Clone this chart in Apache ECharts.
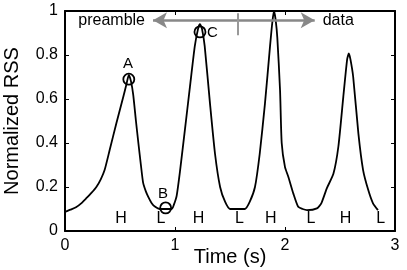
<!DOCTYPE html>
<html><head><meta charset="utf-8">
<script src="https://cdn.jsdelivr.net/npm/echarts@6/dist/echarts.min.js"></script>
<style>html,body{margin:0;padding:0;background:#fff}#c{width:407px;height:270px}</style>
</head><body><div id="c"></div>
<script>
// Curve: time (s) and normalized RSS
const time = [0.00,0.05,0.10,0.15,0.194,0.24,0.285,0.325,0.36,0.406,0.467,0.53,0.56,0.58,0.60,0.62,0.645,0.667,0.69,0.71,0.735,0.757,0.79,0.82,0.86,0.97,0.99,1.015,1.045,1.09,1.136,1.18,1.21,1.227,1.245,1.27,1.318,1.364,1.41,1.455,1.50,1.636,1.68,1.727,1.77,1.818,1.864,1.885,1.90,1.915,1.93,1.955,1.97,2.00,2.03,2.076,2.12,2.16,2.20,2.29,2.33,2.38,2.44,2.485,2.53,2.565,2.58,2.595,2.62,2.667,2.71,2.757,2.80,2.845];
const rss  = [0.087,0.097,0.108,0.127,0.149,0.173,0.20,0.235,0.277,0.368,0.49,0.61,0.67,0.71,0.68,0.62,0.50,0.40,0.30,0.22,0.18,0.155,0.125,0.11,0.10,0.10,0.12,0.16,0.27,0.46,0.656,0.84,0.92,0.94,0.92,0.84,0.58,0.35,0.20,0.133,0.10,0.10,0.133,0.20,0.35,0.58,0.84,0.95,1.0,0.96,0.88,0.64,0.40,0.29,0.247,0.17,0.11,0.10,0.095,0.103,0.126,0.194,0.26,0.383,0.61,0.78,0.807,0.78,0.70,0.444,0.277,0.186,0.126,0.095];
// Marked points A, B, C
const markNames = ['A','B','C'];
const markX = [0.58, 0.915, 1.227];
const markY = [0.69, 0.105, 0.905];
const markLabelX = [0.573, 0.89, 1.34];
const markLabelY = [0.76, 0.17, 0.9];
// H / L labels
const hlText = ['H','L','H','L','H','L','H','L'];
const hlX = [0.51, 0.873, 1.215, 1.585, 1.87, 2.236, 2.55, 2.87];
const hlY = 0.058;
// preamble / data arrow
const arrowLeft = 0.8, arrowRight = 2.27, arrowY = 0.958, dividerX = 1.573;
const dividerY = [0.89, 0.99];
const xTicks = [0, 1, 2, 3];
const yTicks = [0, 0.2, 0.4, 0.6, 0.8, 1];

const FONT = '"Liberation Sans", Arial, sans-serif';
const chart = echarts.init(document.getElementById('c'), null, {renderer: 'canvas'});
const axisCommon = {
  axisLine: {show: true, onZero: false, lineStyle: {color: '#000', width: 2}},
  axisTick: {show: true, inside: true, length: 4, lineStyle: {color: '#000', width: 1}},
  splitLine: {show: false}
};
const labelSeries = {type: 'scatter', symbolSize: 0, z: 5, itemStyle: {opacity: 1}, emphasis: {disabled: true}};
chart.setOption({
  animation: false,
  backgroundColor: '#fff',
  grid: {left: 65, right: 12, top: 11, bottom: 39, containLabel: false, outerBoundsMode: 'none'},
  xAxis: [
    Object.assign({type: 'value', min: xTicks[0], max: xTicks[xTicks.length-1], interval: 1, position: 'bottom',
      name: 'Time (s)', nameLocation: 'middle', nameGap: 16, nameMoveOverlap: false,
      nameTextStyle: {fontSize: 20, fontFamily: FONT, color: '#000'},
      axisLabel: {fontSize: 16, fontFamily: FONT, color: '#000', margin: 7}}, axisCommon),
    Object.assign({type: 'value', min: 0, max: 3, interval: 1, position: 'top', axisLabel: {show: false}}, axisCommon)
  ],
  yAxis: [
    Object.assign({type: 'value', min: yTicks[0], max: yTicks[yTicks.length-1], interval: 0.2, position: 'left',
      name: 'Normalized RSS', nameLocation: 'middle', nameGap: 43, nameMoveOverlap: false,
      nameTextStyle: {fontSize: 20, fontFamily: FONT, color: '#000'},
      axisLabel: {fontSize: 16, fontFamily: FONT, color: '#000', margin: 7}}, axisCommon),
    Object.assign({type: 'value', min: 0, max: 1, interval: 0.2, position: 'right', axisLabel: {show: false}}, axisCommon)
  ],
  series: [
    {
      type: 'line', data: time.map((t, i) => [t, rss[i]]), showSymbol: false, symbol: 'none',
      lineStyle: {color: '#000', width: 1.8}, smooth: 0.2, z: 3,
      markLine: {
        silent: true, animation: false,
        label: {show: false},
        data: [
          [{coord: [arrowLeft, arrowY], symbol: 'arrow', symbolSize: [12, 14], lineStyle: {color: '#888', width: 2.5, type: 'solid'}},
           {coord: [arrowRight, arrowY], symbol: 'arrow', symbolSize: [12, 14]}],
          [{coord: [dividerX, dividerY[0]], symbol: 'none', lineStyle: {color: '#999', width: 2, type: 'solid'}},
           {coord: [dividerX, dividerY[1]], symbol: 'none'}]
        ]
      }
    },
    {
      type: 'scatter', data: markX.map((x, i) => [x, markY[i]]), symbol: 'circle', symbolSize: 11,
      itemStyle: {color: 'rgba(0,0,0,0)', borderColor: '#000', borderWidth: 1.8, opacity: 1}, z: 4
    },
    Object.assign({}, labelSeries, {
      data: markNames.map((n, i) => ({value: [markLabelX[i], markLabelY[i]], name: n})),
      label: {show: true, position: 'inside', formatter: p => p.name, fontSize: 15, fontFamily: FONT, color: '#000'}
    }),
    Object.assign({}, labelSeries, {
      data: hlText.map((n, i) => ({value: [hlX[i], hlY], name: n})),
      label: {show: true, position: 'inside', formatter: p => p.name, fontSize: 16, fontFamily: FONT, color: '#000'}
    }),
    Object.assign({}, labelSeries, {
      data: [
        {value: [arrowLeft, arrowY], name: 'preamble', label: {position: 'left', distance: 8}},
        {value: [arrowRight, arrowY], name: 'data', label: {position: 'right', distance: 8}}
      ],
      label: {show: true, formatter: p => p.name, fontSize: 16, fontFamily: FONT, color: '#000'}
    })
  ]
});
</script></body></html>
